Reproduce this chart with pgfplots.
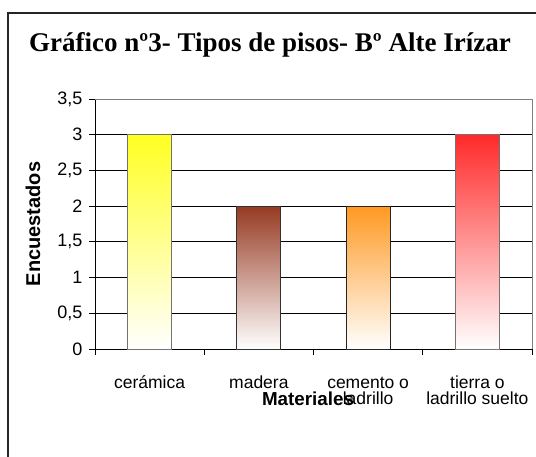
\documentclass[border=0pt]{standalone}
\usepackage{fontspec}
\setmainfont{Liberation Sans}
\newfontfamily\titlef{Liberation Serif}
\usepackage{pgfplots}
\pgfplotsset{compat=1.18}
\definecolor{ceramica}{HTML}{FFFF22}
\definecolor{madera}{HTML}{963A22}
\definecolor{cemento}{HTML}{FF9922}
\definecolor{tierra}{HTML}{FF2A2A}
\newcommand{\lb}{\rule{0pt}{17pt}}
\begin{document}
\begin{tikzpicture}
\useasboundingbox (0,0) rectangle (536pt,-456pt);
% outer frame (cut at right and bottom)
\draw[black!85, line width=1.4pt] (8pt,-460pt) -- (8pt,-13pt) -- (540pt,-13pt);
\node[anchor=base, font=\titlef\bfseries\fontsize{27}{30}\selectfont] at (270pt,-51pt)
  {Gráfico nº3- Tipos de pisos- Bº Alte Irízar};
\begin{axis}[
  at={(95pt,-349pt)}, anchor=south west,
  scale only axis, width=437pt, height=250pt,
  xmin=0.5, xmax=4.5, ymin=0, ymax=3.5,
  axis lines*=left,
  axis line style={black, line width=1pt},
  clip=false,
  ytick={0,0.5,...,3.5},
  /pgf/number format/use comma,
  /pgf/number format/assume math mode=true,
  tick align=outside, major tick length=6pt,
  tick style={black, line width=0.9pt},
  ymajorgrids, grid style={black, line width=0.8pt},
  yticklabel style={font=\fontsize{18}{20}\selectfont, xshift=-3pt},
  xtick={0.5,1.5,2.5,3.5,4.5}, xticklabels={},
  extra x ticks={1,2,3,4},
  extra x tick labels={\lb cerámica, \lb madera, {\lb cemento o\\ladrillo}, {\lb tierra o\\ladrillo suelto}},
  extra x tick style={major tick length=0pt,
    xticklabel style={font=\fontsize{17.5}{16.5}\selectfont, align=center, yshift=-18.5pt}},
]
\addplot[ybar, bar width=44pt, bar shift=0pt, draw=black!55, line width=1pt,
  top color=ceramica, bottom color=white] coordinates {(1,3)};
\addplot[ybar, bar width=44pt, bar shift=0pt, draw=black!80, line width=1pt,
  top color=madera, bottom color=white] coordinates {(2,2)};
\addplot[ybar, bar width=44pt, bar shift=0pt, draw=black!85, line width=1pt,
  top color=cemento, bottom color=white] coordinates {(3,2)};
\addplot[ybar, bar width=44pt, bar shift=0pt, draw=black!55, line width=1pt,
  top color=tierra, bottom color=white] coordinates {(4,3)};
\draw[black!50, line width=1pt] (rel axis cs:0,1) -- (rel axis cs:1,1) -- (rel axis cs:1,0);
\end{axis}
\node[rotate=90, font=\bfseries\fontsize{20}{22}\selectfont] at (33pt,-224pt) {Encuestados};
\node[anchor=base, font=\bfseries\fontsize{18.8}{20}\selectfont] at (308pt,-405pt) {Materiales};
\end{tikzpicture}
\end{document}
